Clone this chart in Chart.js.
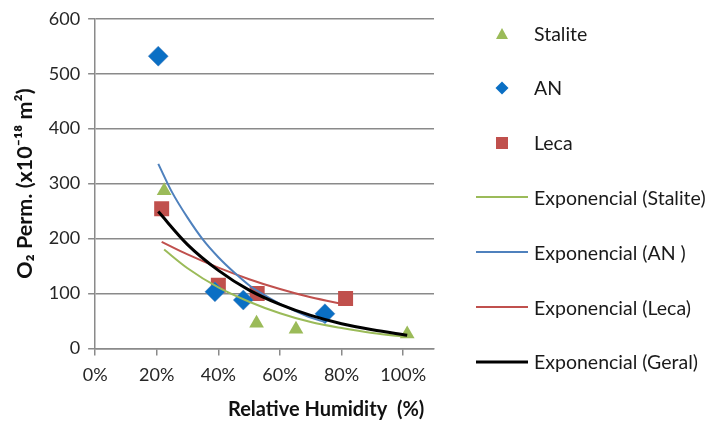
<!DOCTYPE html>
<html>
<head>
<meta charset="utf-8">
<script src="https://cdn.jsdelivr.net/npm/chart.js@4"></script>
<style>
  html, body { margin: 0; padding: 0; background: #fff; }
  #wrap { position: relative; width: 717px; height: 428px; overflow: hidden; }
  #c { position: absolute; left: 0; top: 0; }
  .lg { position: absolute; left: 470px; height: 24px; display: flex; align-items: center;
        font-family: Lato, sans-serif; font-size: 19.5px; color: #1a1a1a; white-space: nowrap; }
  .lg .mk { width: 64px; height: 24px; display: flex; align-items: center; justify-content: center; }
</style>
</head>
<body>
<div id="wrap">
  <canvas id="c" width="717" height="428"></canvas>
  <div id="legend"></div>
</div>
<script>
// ---- Data (x in %, y in 10^-18 m^2) ----
const staliteX = [22.4, 52.4, 65.2, 101.3];
const staliteY = [287, 46, 35, 26];

const anX = [20.5, 38.9, 48.1, 74.6];
const anY = [532, 103, 88, 63];

const lecaX = [21.6, 40.0, 52.6, 81.3];
const lecaY = [254, 115, 100, 91];

// Trend curves (exponential fits in the original)
const trendStaliteX = [22.4, 30, 40, 50, 60, 70, 80, 90, 101.3];
const trendStaliteY = [180, 146, 111, 85, 64, 48, 37, 28, 21];

const trendAnX = [20.5, 25, 30, 35, 40, 45, 50, 55, 60, 65, 70, 74.6];
const trendAnY = [336, 284, 238, 198, 166, 139, 115, 97, 81, 68, 56, 48];

const trendLecaX = [21.6, 30, 40, 50, 60, 70, 81.3];
const trendLecaY = [194, 171, 147, 126, 108, 93, 80];

const trendGeralX = [20.5, 30, 40, 50, 60, 70, 80, 90, 101.3];
const trendGeralY = [249, 189, 142, 106, 80, 60, 45, 34, 24];

const xTicks = [0, 20, 40, 60, 80, 100];
const yTicks = [0, 100, 200, 300, 400, 500, 600];

const legendLabels = ['Stalite', 'AN', 'Leca', 'Exponencial (Stalite)', 'Exponencial (AN )', 'Exponencial (Leca)', 'Exponencial (Geral)'];

const pts = (xs, ys) => xs.map((x, i) => ({ x: x, y: ys[i] }));

const GREEN = '#9BBB59', BLUE_LINE = '#4F81BD', BLUE_MK = '#0A6FC4', RED = '#C0504D';
const GRID = '#8a8a8a';
const FONT = 'Lato, "Open Sans", sans-serif';

const trendDs = (label, xs, ys, color, w, order) => ({
  type: 'line', label: label, data: pts(xs, ys), borderColor: color, backgroundColor: color,
  borderWidth: w, pointRadius: 0, cubicInterpolationMode: 'monotone', fill: false, order: order
});

new Chart(document.getElementById('c'), {
  type: 'scatter',
  data: {
    datasets: [
      { label: legendLabels[0], data: pts(staliteX, staliteY), pointStyle: 'triangle', pointRadius: 8.5,
        backgroundColor: GREEN, borderColor: GREEN, borderWidth: 0, order: 5 },
      { label: legendLabels[1], data: pts(anX, anY), pointStyle: 'rectRot', pointRadius: 10,
        backgroundColor: BLUE_MK, borderColor: BLUE_LINE, borderWidth: 0.5, order: 5 },
      { label: legendLabels[2], data: pts(lecaX, lecaY), pointStyle: 'rect', pointRadius: 10.6,
        backgroundColor: RED, borderColor: RED, borderWidth: 0, order: 5 },
      trendDs(legendLabels[3], trendStaliteX, trendStaliteY, GREEN, 2, 2),
      trendDs(legendLabels[4], trendAnX, trendAnY, BLUE_LINE, 2, 2),
      trendDs(legendLabels[5], trendLecaX, trendLecaY, RED, 2, 2),
      trendDs(legendLabels[6], trendGeralX, trendGeralY, '#000000', 3, 1)
    ]
  },
  options: {
    responsive: false,
    animation: false,
    events: [],
    layout: { padding: { left: 12, right: 283, top: 9, bottom: 6 } },
    plugins: { legend: { display: false }, tooltip: { enabled: false } },
    scales: {
      x: {
        type: 'linear', min: 0, max: 110,
        afterBuildTicks: (s) => { s.ticks = xTicks.map(v => ({ value: v })); },
        ticks: { callback: (v) => v + '%', font: { family: FONT, size: 18 }, color: '#262626', padding: 9, maxRotation: 0 },
        grid: { drawOnChartArea: false, drawTicks: true, tickLength: 7, color: GRID, lineWidth: 1.5 },
        border: { display: true, color: GRID, width: 1.5 },
        title: { display: true, text: 'Relative Humidity  (%)  ', align: 'end', color: '#111',
                 font: { family: FONT, size: 20, weight: 'bold' }, padding: { top: 3, bottom: 0 } }
      },
      y: {
        min: 0, max: 600,
        afterBuildTicks: (s) => { s.ticks = yTicks.map(v => ({ value: v })); },
        ticks: { font: { family: FONT, size: 18 }, color: '#262626', padding: 8 },
        grid: { color: GRID, lineWidth: 1.5, tickLength: 7, drawTicks: true },
        border: { display: true, color: GRID, width: 1.5 },
        title: { display: true, text: 'O\u2082 Perm. (x10\u207B\u00B9\u2078 m\u00B2)', color: '#111',
                 font: { family: FONT, size: 21.5, weight: 'bold' }, padding: { top: 0, bottom: 3 } }
      }
    }
  }
});

// ---- Legend (HTML, right side) ----
const markerSvg = [
  '<svg width="14" height="13"><polygon points="7,1 13,12 1,12" fill="' + GREEN + '"/></svg>',
  '<svg width="14" height="14"><polygon points="7,0.5 13.5,7 7,13.5 0.5,7" fill="' + BLUE_MK + '"/></svg>',
  '<svg width="12" height="12"><rect x="0" y="0" width="12" height="12" fill="' + RED + '"/></svg>',
  '<svg width="52" height="4"><line x1="0" y1="2" x2="52" y2="2" stroke="' + GREEN + '" stroke-width="2"/></svg>',
  '<svg width="52" height="4"><line x1="0" y1="2" x2="52" y2="2" stroke="' + BLUE_LINE + '" stroke-width="2"/></svg>',
  '<svg width="52" height="4"><line x1="0" y1="2" x2="52" y2="2" stroke="' + RED + '" stroke-width="2"/></svg>',
  '<svg width="52" height="4"><line x1="0" y1="2" x2="52" y2="2" stroke="#000" stroke-width="3"/></svg>'
];
const lg = document.getElementById('legend');
legendLabels.forEach((t, i) => {
  const d = document.createElement('div');
  d.className = 'lg';
  d.style.top = (33 + i * 54.8 - 12) + 'px';
  d.innerHTML = '<span class="mk">' + markerSvg[i] + '</span><span>' + t + '</span>';
  lg.appendChild(d);
});
</script>
</body>
</html>
